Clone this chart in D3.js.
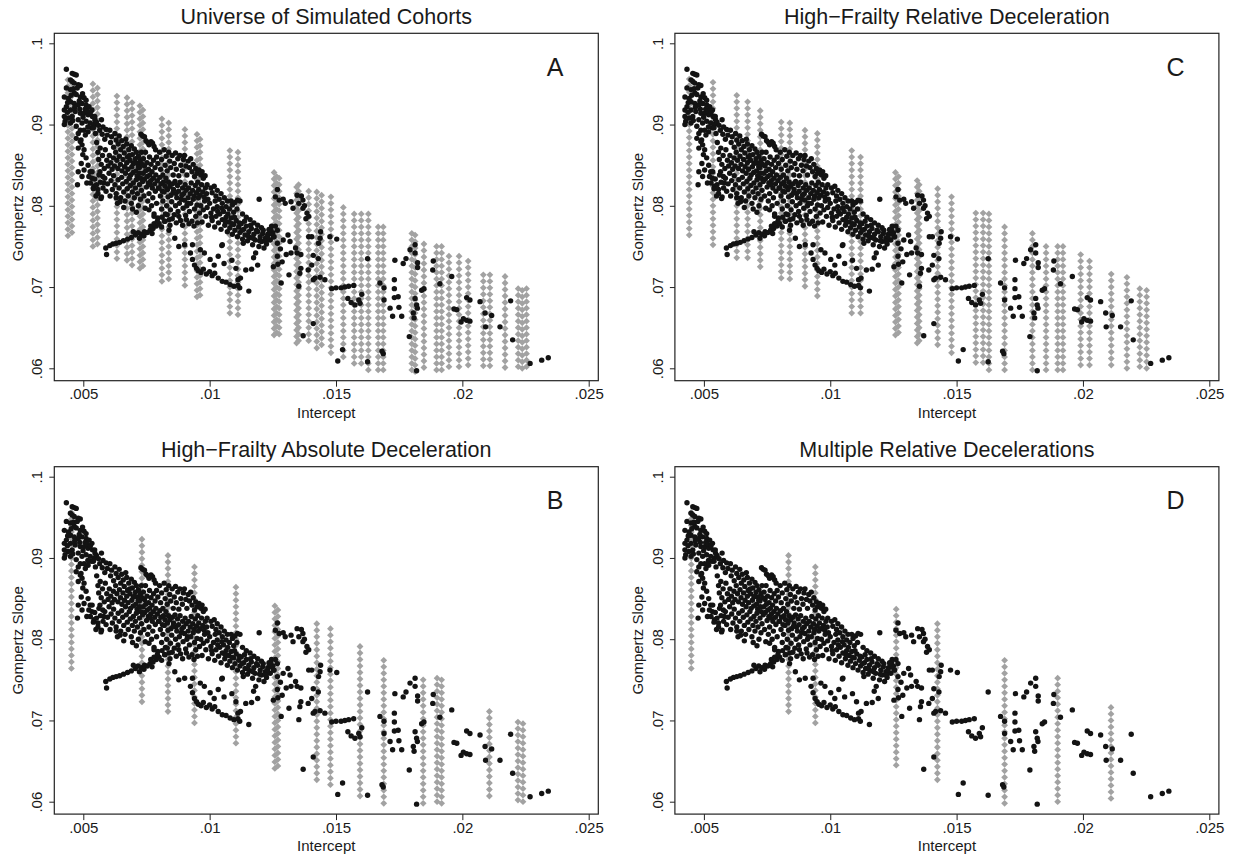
<!DOCTYPE html>
<html>
<head>
<meta charset="utf-8">
<script src="https://d3js.org/d3.v7.min.js"></script>
<style>
  body { margin: 0; background: #fff; }
  svg { display: block; font-family: "Liberation Sans", Arial, Helvetica, sans-serif; }
  .tick text { font-size: 15px; fill: #1a1a1a; }
  .tick line { stroke: #222; stroke-width: 1; }
  .title { font-size: 21.5px; fill: #1a1a1a; text-anchor: middle; }
  .letter { font-size: 25px; fill: #1a1a1a; text-anchor: middle; }
  .axis-title { font-size: 15px; fill: #1a1a1a; text-anchor: middle; }
</style>
</head>
<body>
<svg width="1234" height="857"></svg>
<script>
// axis ticks
var xTicks = [0.005, 0.01, 0.015, 0.02, 0.025];
var yTicks = [0.06, 0.07, 0.08, 0.09, 0.1];

var panelTitles = ["Universe of Simulated Cohorts", "High\u2212Frailty Relative Deceleration",
                   "High\u2212Frailty Absolute Deceleration", "Multiple Relative Decelerations"];
var panelLetters = ["A", "C", "B", "D"];

// simulated cohorts: one vertical column of diamonds per intercept [intercept, top slope, bottom slope]
var simColsA = [
  [0.00439, 0.0961, 0.0763], [0.00455, 0.0957, 0.0767],
  [0.00538, 0.0953, 0.0750], [0.00556, 0.0948, 0.0753],
  [0.00633, 0.0938, 0.0735],
  [0.00673, 0.0933, 0.0733], [0.00693, 0.0928, 0.0727],
  [0.00724, 0.0923, 0.0723], [0.00736, 0.0918, 0.0726],
  [0.00811, 0.0908, 0.0707], [0.00838, 0.0906, 0.0710],
  [0.00902, 0.0897, 0.0702],
  [0.00950, 0.0891, 0.0688], [0.00962, 0.0887, 0.0690],
  [0.01080, 0.0873, 0.0668], [0.01112, 0.0867, 0.0666],
  [0.01255, 0.0844, 0.0641], [0.01265, 0.0840, 0.0644], [0.01275, 0.0838, 0.0642],
  [0.01344, 0.0830, 0.0631], [0.01352, 0.0826, 0.0634],
  [0.01392, 0.0823, 0.0634], [0.01424, 0.0821, 0.0625], [0.01443, 0.0818, 0.0629],
  [0.01480, 0.0813, 0.0619],
  [0.01529, 0.0801, 0.0614],
  [0.01572, 0.0793, 0.0606], [0.01600, 0.0793, 0.0606],
  [0.01628, 0.0795, 0.0598],
  [0.01667, 0.0780, 0.0598], [0.01687, 0.0778, 0.0598],
  [0.01800, 0.0767, 0.0598], [0.01813, 0.0765, 0.0596],
  [0.01848, 0.0754, 0.0601],
  [0.01898, 0.0752, 0.0598], [0.01918, 0.0750, 0.0598],
  [0.01947, 0.0740, 0.0602],
  [0.01987, 0.0739, 0.0602],
  [0.02023, 0.0733, 0.0604],
  [0.02083, 0.0720, 0.0603],
  [0.02109, 0.0716, 0.0603],
  [0.02169, 0.0714, 0.0601],
  [0.02221, 0.0700, 0.0602], [0.02237, 0.0698, 0.0600], [0.02254, 0.0700, 0.0602]
];
var simColsC = [
  [0.00442, 0.0958, 0.0764],
  [0.00536, 0.0953, 0.0752],
  [0.00630, 0.0939, 0.0736],
  [0.00673, 0.0932, 0.0736],
  [0.00723, 0.0923, 0.0725],
  [0.00806, 0.0906, 0.0711], [0.00840, 0.0908, 0.0710],
  [0.00900, 0.0898, 0.0701],
  [0.00949, 0.0891, 0.0689],
  [0.01085, 0.0873, 0.0668], [0.01120, 0.0867, 0.0668],
  [0.01258, 0.0844, 0.0641], [0.01270, 0.0840, 0.0644],
  [0.01344, 0.0832, 0.0631], [0.01352, 0.0828, 0.0634],
  [0.01425, 0.0822, 0.0629],
  [0.01480, 0.0813, 0.0619],
  [0.01576, 0.0795, 0.0607], [0.01605, 0.0795, 0.0607],
  [0.01628, 0.0795, 0.0598],
  [0.01690, 0.0779, 0.0598],
  [0.01800, 0.0768, 0.0598],
  [0.01854, 0.0756, 0.0598],
  [0.01900, 0.0752, 0.0598], [0.01921, 0.0750, 0.0598],
  [0.01991, 0.0740, 0.0604],
  [0.02026, 0.0734, 0.0604],
  [0.02112, 0.0717, 0.0604],
  [0.02174, 0.0715, 0.0600],
  [0.02225, 0.0701, 0.0602], [0.02252, 0.0699, 0.0600]
];
var simColsB = [
  [0.00453, 0.0958, 0.0764],
  [0.00732, 0.0924, 0.0723],
  [0.00835, 0.0908, 0.0711],
  [0.00940, 0.0891, 0.0697],
  [0.01104, 0.0866, 0.0672],
  [0.01258, 0.0844, 0.0641], [0.01270, 0.0840, 0.0644],
  [0.01424, 0.0821, 0.0627],
  [0.01478, 0.0814, 0.0621],
  [0.01595, 0.0795, 0.0607],
  [0.01689, 0.0779, 0.0598],
  [0.01845, 0.0756, 0.0598],
  [0.01900, 0.0752, 0.0600], [0.01918, 0.0750, 0.0598],
  [0.02107, 0.0717, 0.0607],
  [0.02220, 0.0701, 0.0602], [0.02240, 0.0699, 0.0600]
];
var simColsD = [
  [0.00450, 0.0959, 0.0764],
  [0.00835, 0.0907, 0.0711],
  [0.00941, 0.0891, 0.0697],
  [0.01261, 0.0844, 0.0645],
  [0.01424, 0.0821, 0.0627],
  [0.01690, 0.0775, 0.0598],
  [0.01900, 0.0752, 0.0600],
  [0.02111, 0.0718, 0.0604]
];
var simStep = 0.0008; // slope grid spacing of the simulated cohorts

// observed cohorts (same in every panel): [intercept, slope]
var obsHead = [
  [0.00433,0.0968],[0.00456,0.0963],[0.00464,0.0962],[0.00472,0.0961],
  [0.00449,0.0955],[0.00456,0.0953],[0.00464,0.0951],[0.0048,0.0949],[0.00488,0.0948],
  [0.00433,0.0945],[0.00449,0.0943],[0.00464,0.0939],[0.00472,0.0937],[0.00488,0.0934],[0.00503,0.0933],[0.00511,0.0930],
  [0.00425,0.0934],[0.00441,0.0932],[0.00449,0.0928],[0.00464,0.0926],[0.0048,0.0924],[0.00495,0.0926],[0.00511,0.0924],[0.00523,0.0922],[0.00534,0.0918],
  [0.00433,0.0922],[0.00425,0.0918],[0.00449,0.0918],[0.00468,0.0916],[0.00488,0.0914],[0.00503,0.0914],[0.00519,0.0912],[0.00536,0.0910],
  [0.00425,0.0910],[0.00441,0.0908],[0.00456,0.0910],[0.0048,0.0906],[0.00495,0.0902],[0.00511,0.0904],[0.00527,0.0902],[0.00542,0.0900],
  [0.00425,0.0900],[0.00449,0.0902],[0.00472,0.0898],[0.00488,0.0893],[0.00503,0.0893],[0.00519,0.0891],
  [0.0048,0.0889],[0.00472,0.0883],[0.00488,0.0879],[0.00495,0.0875],[0.0048,0.0871],[0.00503,0.0869],[0.00498,0.0863],[0.00511,0.0859],
  [0.00492,0.0852],[0.00519,0.0850],[0.00503,0.0844],[0.0048,0.0842],[0.00527,0.0842],[0.00495,0.0836],[0.00534,0.0834],[0.00514,0.0828],
  [0.00477,0.0826],[0.00542,0.0824],[0.00558,0.0820],[0.0055,0.0812],[0.0057,0.0809],[0.00581,0.0828],[0.00577,0.0836],[0.00566,0.0842],
  [0.00438,0.0927],[0.00452,0.0936],[0.00461,0.0944],[0.00476,0.0945],[0.00484,0.0929],[0.00497,0.0938],[0.00507,0.0919],[0.00515,0.0917],
  [0.00428,0.0904],[0.00437,0.0915],[0.00458,0.0905],[0.00466,0.0921],[0.00486,0.0919],[0.00499,0.0909],[0.00528,0.0915],[0.00546,0.0906],
  [0.00532,0.0896],[0.00518,0.0897],[0.00508,0.0887],[0.00491,0.0881]
];
var obsUpper = [
  [0.00545,0.0910],[0.00552,0.0903],[0.0054,0.0896],[0.0056,0.0899],[0.00548,0.0889],[0.00565,0.0893],
  [0.00572,0.0906],[0.00578,0.0897],[0.00575,0.0888],[0.00585,0.0882],[0.0059,0.0894],[0.00595,0.0887],
  [0.00605,0.0893],[0.00612,0.0885],[0.00608,0.0878],[0.0062,0.0872],[0.00625,0.0889],[0.0063,0.0881],
  [0.00638,0.0876],[0.00642,0.0886],[0.00648,0.0869],[0.00652,0.0880],[0.00658,0.0873],[0.00662,0.0865],
  [0.00668,0.0882],[0.00672,0.0876],[0.00675,0.0860],[0.0068,0.0869],[0.00685,0.0856],[0.0069,0.0874],[0.00694,0.0863],[0.00698,0.0852],
  [0.00702,0.0870],[0.00706,0.0858],[0.0071,0.0866],[0.00715,0.0852],[0.00718,0.0861],[0.00722,0.0847],[0.00726,0.0856],[0.0073,0.0866],
  [0.00728,0.0888],[0.00735,0.0886],[0.00742,0.0885],[0.00748,0.0880],[0.00755,0.0878],[0.0076,0.0875],[0.00768,0.0879],[0.00774,0.0877],[0.0078,0.0873],[0.00786,0.0869],
  [0.00738,0.0858],[0.00742,0.0849],[0.00746,0.0866],[0.00752,0.0853],[0.00758,0.0845],[0.00762,0.0860],[0.00768,0.0851],[0.00772,0.0842],[0.00778,0.0856],[0.00784,0.0847],[0.0079,0.0860],[0.00795,0.0852],
  [0.00802,0.0866],[0.00806,0.0845],[0.0081,0.0857],[0.00815,0.0838],[0.0082,0.0869],[0.00824,0.0850],[0.00828,0.0861],[0.00832,0.0843],[0.00838,0.0866],[0.00842,0.0855],[0.00846,0.0847],[0.00852,0.0862],[0.00856,0.0838],[0.0086,0.0852],
  [0.00865,0.0865],[0.00868,0.0845],[0.00874,0.0858],[0.00878,0.0837],[0.00882,0.0862],[0.00886,0.0850],[0.00892,0.0843],[0.00896,0.0857],[0.009,0.0862],[0.00906,0.0849],[0.0091,0.0838],[0.00915,0.0855],
  [0.0092,0.0847],[0.00925,0.0858],[0.0093,0.0842],[0.00935,0.0851],[0.0094,0.0836],[0.00945,0.0846],[0.0095,0.0840],[0.00958,0.0844],[0.00965,0.0838],[0.0097,0.0842],[0.00975,0.0834],[0.00982,0.0837]
];
// cohorts lying between the upper and middle bands
var obsBetween = [
  [0.00553,0.0878],[0.00558,0.0866],[0.00561,0.0857],[0.00567,0.0871],[0.00571,0.0851],[0.00576,0.0862],[0.00583,0.0846],[0.00587,0.0869],[0.00593,0.0856],[0.00598,0.0849],[0.00603,0.0862],[0.00609,0.0853],[0.00614,0.0845],[0.00619,0.0859],[0.00623,0.0849],
  [0.00628,0.0866],[0.00633,0.0856],[0.00637,0.0846],[0.00643,0.0861],[0.00647,0.0851],[0.00653,0.0843],[0.00657,0.0857],[0.00663,0.0848],[0.00667,0.0840],[0.00672,0.0853],[0.00677,0.0845],[0.00683,0.0862],[0.00687,0.0838],[0.00692,0.0848],[0.00697,0.0841],
  [0.00703,0.0853],[0.00708,0.0843],[0.00713,0.0837],[0.00717,0.0848],[0.00723,0.0840],[0.00727,0.0834],[0.00733,0.0851],[0.00737,0.0840],[0.00743,0.0833],[0.00747,0.0843],[0.00753,0.0836],[0.00757,0.0828],[0.00763,0.0838],[0.00767,0.0831],[0.00773,0.0822],[0.00777,0.0834],
  [0.00783,0.0827],[0.00787,0.0838],[0.00793,0.0831],[0.00797,0.0822],[0.00803,0.0835],[0.00807,0.0827],[0.00813,0.0818],[0.00817,0.0829],[0.00823,0.0824],[0.00827,0.0834],[0.00833,0.0820],[0.00837,0.0829],[0.00843,0.0824],[0.00847,0.0813],[0.00853,0.0827],[0.00857,0.0820],
  [0.00863,0.0830],[0.00867,0.0815],[0.00873,0.0825],[0.00877,0.0818],[0.00883,0.0829],[0.00887,0.0808],[0.00893,0.0822],[0.00897,0.0815],[0.00903,0.0826],[0.00907,0.0819],[0.00913,0.0803],[0.00917,0.0822],[0.00923,0.0815],[0.00927,0.0828],[0.00933,0.0819],[0.00938,0.0812],
  [0.00943,0.0825],[0.00948,0.0816],[0.00953,0.0829],[0.00957,0.0820],[0.00962,0.0813],[0.00968,0.0826],[0.00973,0.0817],[0.00978,0.0811],[0.00983,0.0822],[0.00988,0.0815],[0.00993,0.0808]
];
var obsMiddle = [
  [0.00522,0.0836],[0.00528,0.0828],[0.00535,0.0842],[0.0054,0.0821],[0.00545,0.0833],[0.00552,0.0826],[0.00558,0.0815],[0.00562,0.0838],[0.00568,0.0829],[0.00572,0.0811],[0.00578,0.0822],[0.00585,0.0834],[0.0059,0.0818],[0.00596,0.0827],
  [0.00602,0.0840],[0.00606,0.0812],[0.0061,0.0831],[0.00615,0.0820],[0.0062,0.0837],[0.00625,0.0826],[0.0063,0.0815],[0.00635,0.0803],[0.00638,0.0832],[0.00642,0.0822],[0.00648,0.0810],[0.00652,0.0835],[0.00656,0.0827],[0.0066,0.0817],[0.00665,0.0806],
  [0.0067,0.0830],[0.00674,0.0821],[0.00678,0.0812],[0.00682,0.0834],[0.00686,0.0825],[0.0069,0.0803],[0.00694,0.0817],[0.00698,0.0828],[0.00702,0.0810],[0.00706,0.0822],[0.0071,0.0832],[0.00714,0.0815],[0.00718,0.0800],[0.00722,0.0826],[0.00726,0.0808],
  [0.0073,0.0819],[0.00735,0.0830],[0.0074,0.0812],[0.00745,0.0797],[0.0075,0.0823],[0.00755,0.0806],[0.0076,0.0815],[0.00765,0.0826],[0.0077,0.0800],[0.00775,0.0810],[0.0078,0.0790],[0.00785,0.0818],[0.0079,0.0803],[0.00795,0.0785],
  [0.008,0.0822],[0.00805,0.0812],[0.0081,0.0796],[0.00815,0.0806],[0.0082,0.0817],[0.00825,0.0790],[0.0083,0.0800],[0.00835,0.0811],[0.0084,0.0783],[0.00845,0.0795],[0.0085,0.0805],[0.00855,0.0816],[0.0086,0.0789],[0.00865,0.0800],
  [0.0087,0.0810],[0.00875,0.0793],[0.0088,0.0803],[0.00885,0.0782],[0.0089,0.0813],[0.00895,0.0797],[0.009,0.0807],[0.00905,0.0788],[0.0091,0.0800],[0.00915,0.0810],[0.0092,0.0793],[0.00925,0.0803],[0.0093,0.0781],
  [0.00935,0.0808],[0.0094,0.0796],[0.00945,0.0787],[0.0095,0.0801],[0.00955,0.0810],[0.0096,0.0791],[0.00965,0.0800],[0.0097,0.0780],[0.00975,0.0795],[0.0098,0.0806],[0.00985,0.0787],[0.0099,0.0798],[0.00995,0.0776],
  [0.0099,0.0826],[0.01005,0.0822],[0.0101,0.0816],[0.01018,0.0824],[0.01025,0.0812],[0.0103,0.0819],[0.01038,0.0808],[0.01045,0.0815],[0.0105,0.0803],[0.01058,0.0810],[0.01065,0.0799],[0.0107,0.0806],[0.01078,0.0796],[0.0109,0.0801],[0.01095,0.0792],
  [0.01085,0.0806],[0.011,0.0804],[0.0111,0.0807],[0.0112,0.0806],
  [0.0113,0.0790],[0.01145,0.0786],[0.0116,0.0783],[0.01175,0.0779],[0.0119,0.0776],[0.01205,0.0773],
  [0.01,0.0803],[0.01005,0.0791],[0.0101,0.0782],[0.01015,0.0796],[0.0102,0.0774],[0.01025,0.0787],[0.0103,0.0799],[0.01035,0.0779],[0.0104,0.0790],[0.01045,0.0771],[0.0105,0.0783],[0.01055,0.0793],[0.0106,0.0776],[0.01065,0.0786],
  [0.0107,0.0768],[0.01075,0.0780],[0.0108,0.0773],[0.01085,0.0785],[0.0109,0.0765],[0.01095,0.0777],[0.011,0.0770],[0.01105,0.0782],[0.0111,0.0762],[0.01115,0.0774],[0.0112,0.0767],[0.01125,0.0778],[0.0113,0.0759],[0.01135,0.0771],
  [0.0114,0.0764],[0.01145,0.0775],[0.0115,0.0757],[0.01155,0.0768],[0.0116,0.0761],[0.01165,0.0772],[0.0117,0.0752],[0.01175,0.0765],[0.0118,0.0758],[0.0119,0.0768],[0.01195,0.0750],[0.012,0.0762],[0.01205,0.0756],[0.0121,0.0766],[0.01215,0.0748],[0.0122,0.0760],[0.01225,0.0753],[0.0123,0.0765],[0.01235,0.0771],[0.0124,0.0758],[0.01245,0.0775],[0.0125,0.0767],[0.01255,0.0762],
  [0.00812,0.0786],[0.00822,0.0781],[0.00832,0.0789],[0.00843,0.0776],[0.00852,0.0784],[0.00868,0.0779],[0.00878,0.0787],[0.00893,0.0776],[0.00908,0.0783],[0.00918,0.0778],[0.00938,0.0775],[0.00952,0.0779],
  [0.01008,0.0786],[0.01022,0.0806],[0.01032,0.0793],[0.01048,0.0797],[0.01062,0.0781],[0.01072,0.0790],[0.01088,0.0778],[0.01098,0.0786],[0.01108,0.0796],[0.01118,0.0779],
  [0.01128,0.0770],[0.01138,0.0781],[0.01152,0.0763],[0.01162,0.0776],[0.01172,0.0760],[0.01185,0.0770],[0.01198,0.0757],[0.01212,0.0770],[0.01228,0.0758],[0.01242,0.0771]
];
var obsLower = [
  [0.00589,0.0748],[0.00592,0.0740],[0.00605,0.0751],[0.00617,0.0753],[0.0063,0.0754],[0.00644,0.0755],[0.00659,0.0757],[0.00675,0.0759],[0.0069,0.0761],[0.00706,0.0764],[0.00717,0.0767],[0.00729,0.0765],[0.00742,0.0768],
  [0.00753,0.0767],[0.00764,0.0770],[0.00776,0.0772],[0.00789,0.0775],[0.008,0.0778],[0.0081,0.0774],[0.00823,0.0781],[0.00772,0.0766],[0.00767,0.0775],[0.00698,0.0768],[0.00722,0.0760],[0.0074,0.0763],[0.0078,0.0778],
  [0.00932,0.0734],[0.0094,0.0727],[0.00948,0.0723],[0.00955,0.0720],[0.00966,0.0718],[0.00987,0.0716],[0.0101,0.0714],[0.01034,0.0711],[0.0105,0.0707],[0.01065,0.0706],[0.01081,0.0703],[0.01096,0.0701],
  [0.01112,0.0702],[0.01119,0.0699],[0.01112,0.0709],[0.01122,0.0711],[0.01155,0.0695],[0.00975,0.0722],[0.01,0.0719],[0.0102,0.0717],
  [0.00839,0.0770],[0.00862,0.0760],[0.00878,0.0750],[0.00901,0.0752],[0.00932,0.0752],[0.00963,0.0746],[0.00924,0.0742],[0.00979,0.0742],[0.01002,0.0734],[0.01018,0.0727],[0.01034,0.0738],[0.0105,0.0752],
  [0.01057,0.0729],[0.01088,0.0733],[0.01104,0.0723],[0.01143,0.0721],[0.01166,0.0722],[0.01174,0.0736],[0.01182,0.0742],[0.0119,0.0727],[0.01048,0.0751],[0.01133,0.0754],[0.01196,0.0808],
  [0.0063,0.0810],[0.00645,0.0805],[0.0066,0.0798],[0.00695,0.0796],[0.0071,0.0792],[0.0076,0.0795],[0.0078,0.0787],[0.00793,0.0781]
];
var obsRight = [
  [0.01268,0.0820],[0.0126,0.0811],[0.01275,0.0807],[0.01291,0.0808],[0.01322,0.0805],[0.01346,0.0813],[0.01353,0.0803],[0.01369,0.0797],[0.01385,0.0791],[0.01369,0.0807],[0.0133,0.0797],[0.01299,0.0803],
  [0.01381,0.0784],[0.01392,0.0787],[0.01363,0.0812],[0.01375,0.0800],
  [0.01404,0.0762],[0.01437,0.0760],[0.01476,0.0762],[0.01503,0.0759],[0.0141,0.0739],[0.0143,0.0735],[0.01404,0.0727],[0.0139,0.0721],[0.0141,0.0709],[0.01417,0.0711],[0.01437,0.0712],[0.01456,0.0709],
  [0.01439,0.0768],[0.01392,0.0762],[0.01431,0.0754],
  [0.01361,0.0723],[0.01357,0.0717],[0.01361,0.0740],[0.01346,0.0742],[0.01322,0.0742],[0.01303,0.0740],[0.01318,0.0756],[0.01291,0.0758],[0.01283,0.0705],[0.01252,0.0725],[0.01268,0.0738],[0.01268,0.0754],
  [0.01268,0.0770],[0.0126,0.0775],[0.01252,0.0762],[0.01244,0.0766],[0.01236,0.0770],[0.01229,0.0762],[0.01221,0.0756],[0.01314,0.0715],[0.01353,0.0701],[0.01287,0.0731],[0.0131,0.0764],[0.0134,0.0748],[0.0128,0.0747],[0.0127,0.0728],
  [0.0141,0.0655],[0.0137,0.0640],
  [0.01483,0.0698],[0.0150,0.0699],[0.0152,0.0699],[0.01535,0.0700],[0.0155,0.0701],[0.0157,0.0702],
  [0.01547,0.0686],[0.0156,0.0681],[0.01575,0.0678],[0.0159,0.0684],[0.01595,0.0680],[0.01602,0.0691],
  [0.01625,0.0735],[0.01674,0.0705],[0.01687,0.0618],[0.01682,0.0621],[0.01625,0.0608],[0.01507,0.0609],[0.01526,0.0623],[0.0169,0.0684],[0.0169,0.0699],
  [0.01733,0.0733],[0.01731,0.0709],[0.01731,0.0698],[0.01731,0.0687],[0.01746,0.0688],[0.01714,0.0674],[0.01749,0.0675],[0.01724,0.0664],[0.0176,0.0664],
  [0.01777,0.0735],[0.01766,0.0729],[0.01793,0.0746],[0.01813,0.0752],[0.01813,0.0742],[0.01823,0.0730],[0.01823,0.0724],
  [0.0179,0.0639],[0.01819,0.0597],
  [0.01813,0.0686],[0.01819,0.0678],[0.01822,0.0674],[0.01806,0.0668],[0.01809,0.0662],[0.01839,0.0696],[0.01848,0.0698],
  [0.01885,0.0732],[0.01883,0.0721],[0.01911,0.0704],[0.01958,0.0713],
  [0.01967,0.0673],[0.01978,0.0672],[0.01995,0.0657],[0.02004,0.0661],[0.02017,0.0659],[0.0203,0.0658],[0.02017,0.0687],[0.0203,0.0684],
  [0.0207,0.0682],[0.0209,0.0668],[0.02116,0.0665],[0.02092,0.0651],[0.02149,0.0651],[0.02191,0.0683],[0.02199,0.0635],
  [0.02268,0.0606],[0.02314,0.0610],[0.0234,0.0613]
];

var observed = obsHead.concat(obsUpper, obsBetween, obsMiddle, obsLower, obsRight);
var simByPanel = [simColsA, simColsC, simColsB, simColsD];

var svg = d3.select("svg");
var panelOffsets = [[0, 0], [620.6, 0], [0, 433.4], [620.6, 433.4]];
var frame = {left: 54.3, right: 598.3, top: 33.3, bottom: 380.7};

var x = d3.scaleLinear().domain([0.005, 0.025]).range([83.3, 588.7]);
var y = d3.scaleLinear().domain([0.06, 0.1]).range([368.3, 43.3]);
var fmt = function(v) { return String(v).replace(/^0\./, "."); };
var ds = 3.4; // diamond half-diagonal
var diamond = "M0," + (-ds) + "L" + ds + ",0L0," + ds + "L" + (-ds) + ",0Z";

panelOffsets.forEach(function(off, i) {
  var g = svg.append("g").attr("transform", "translate(" + off[0] + "," + off[1] + ")");

  g.append("text").attr("class", "title")
    .attr("x", (frame.left + frame.right) / 2).attr("y", 24)
    .text(panelTitles[i]);

  // simulated cohorts
  var sims = [];
  simByPanel[i].forEach(function(c) {
    d3.range(c[2], c[1] + 1e-7, simStep).forEach(function(s) { sims.push([c[0], s]); });
  });
  g.append("g").selectAll("path").data(sims).enter().append("path")
    .attr("d", diamond)
    .attr("transform", function(d) { return "translate(" + x(d[0]) + "," + y(d[1]) + ")"; })
    .attr("fill", "#a2a2a2");

  // observed cohorts
  g.append("g").selectAll("circle").data(observed).enter().append("circle")
    .attr("cx", function(d) { return x(d[0]); })
    .attr("cy", function(d) { return y(d[1]); })
    .attr("r", 2.7)
    .attr("fill", "#131313");

  g.append("rect")
    .attr("x", frame.left).attr("y", frame.top)
    .attr("width", frame.right - frame.left).attr("height", frame.bottom - frame.top)
    .attr("fill", "none").attr("stroke", "#222").attr("stroke-width", 1.2);

  var xa = g.append("g").attr("transform", "translate(0," + frame.bottom + ")")
    .call(d3.axisBottom(x).tickValues(xTicks).tickFormat(fmt).tickSize(6).tickPadding(2));
  xa.select(".domain").remove();

  var ya = g.append("g").attr("transform", "translate(" + frame.left + ",0)")
    .call(d3.axisLeft(y).tickValues(yTicks).tickFormat(fmt).tickSize(5));
  ya.select(".domain").remove();
  ya.selectAll(".tick text")
    .attr("transform", "rotate(-90)")
    .attr("x", 0).attr("y", -12).attr("dy", 0)
    .attr("text-anchor", "middle");

  g.append("text").attr("class", "axis-title")
    .attr("x", (frame.left + frame.right) / 2).attr("y", 417.5)
    .text("Intercept");
  g.append("text").attr("class", "axis-title")
    .attr("transform", "translate(22.5," + (frame.top + frame.bottom) / 2 + ") rotate(-90)")
    .text("Gompertz Slope");

  g.append("text").attr("class", "letter")
    .attr("x", 555).attr("y", 76)
    .text(panelLetters[i]);
});
</script>
</body>
</html>
